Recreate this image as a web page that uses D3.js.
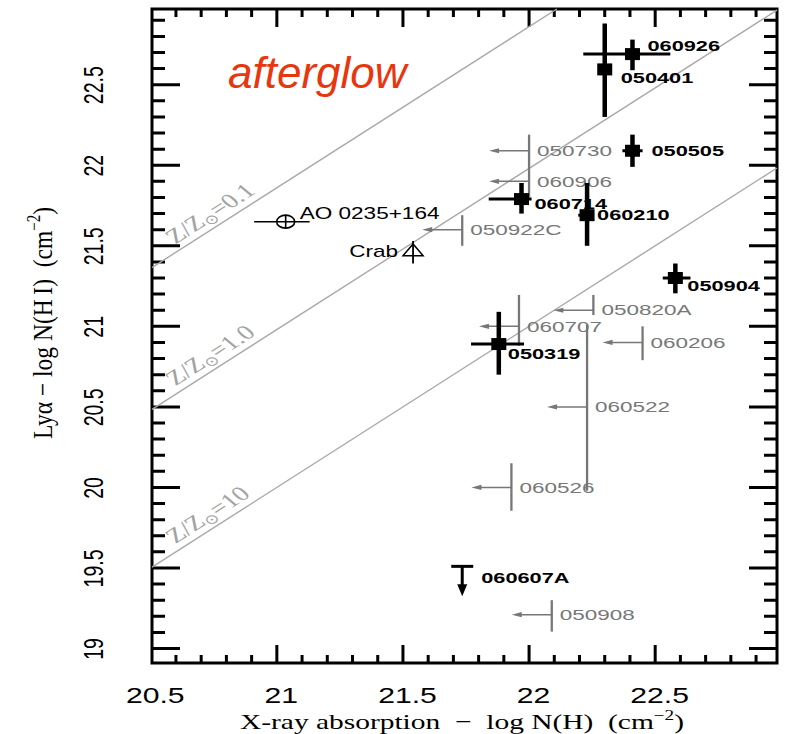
<!DOCTYPE html>
<html><head><meta charset="utf-8">
<script src="https://cdn.jsdelivr.net/npm/d3@7"></script>
<style>body{margin:0;background:#fff}svg{display:block}</style>
</head><body>
<svg id="chart" width="786" height="734"></svg>
<script>
// ---------------- data ----------------
// GRB afterglows with measured values (filled squares, error bars)
const detNames = ["060926","050401","050505","060714","060210","050904","050319"];
const detX     = [22.41, 22.30, 22.41, 21.97, 22.23, 22.58, 21.88];
const detY     = [22.69, 22.595, 22.09, 21.79, 21.69, 21.30, 20.89];
const detXlo   = [22.215, 22.30, 22.37, 21.84, 22.195, 22.53, 21.77];
const detXhi   = [22.56, 22.30, 22.45, 22.01, 22.255, 22.64, 21.98];
const detYlo   = [22.59, 22.30, 21.99, 21.70, 21.50, 21.205, 20.70];
const detYhi   = [22.78, 22.88, 22.19, 21.89, 21.89, 21.39, 21.09];

// X-ray upper limits (grey, arrow to the left)
const limNames = ["050730","060906","050922C","050820A","060707","060206","060522","060526","050908"];
const limX     = [22.00, 22.00, 21.735, 22.255, 21.96, 22.45, 22.23, 21.93, 22.09];
const limY     = [22.09, 21.90, 21.60, 21.10, 21.00, 20.90, 20.50, 20.00, 19.21];
const limYlo   = [21.97, 21.80, 21.50, 21.07, 20.88, 20.79, 19.98, 19.855, 19.105];
const limYhi   = [22.19, 21.97, 21.69, 21.195, 21.195, 21.00, 21.01, 20.15, 19.30];

// Lyman-alpha upper limit
const ulName = "060607A", ulX = 21.735, ulY = 19.51;

// comparison objects
const aoName = "AO 0235+164", aoX = 21.035, aoY = 21.65, aoXlo = 20.91, aoXhi = 21.13;
const crabName = "Crab", crabX = 21.54, crabY = 21.47, crabYlo = 21.39, crabYhi = 21.53;

// metallicity lines  log N(HI) = log N(H) + offset
const zLabels  = ["0.1", "1.0", "10"];
const zOffsets = [0.86, -0.02, -1.0];

// axes
const xTickValues = [20.5, 21, 21.5, 22, 22.5];
const xTickLabels = ["20.5", "21", "21.5", "22", "22.5"];
const yTickValues = [19, 19.5, 20, 20.5, 21, 21.5, 22, 22.5];
const yTickLabels = ["19", "19.5", "20", "20.5", "21", "21.5", "22", "22.5"];

// ---------------- layout ----------------
const SX = 1.37; // horizontal stretch of the original figure
const svg = d3.select("#chart");
const x = d3.scaleLinear().domain([20.505, 22.983]).range([152, 777]);
const y = d3.scaleLinear().domain([18.91, 22.97]).range([663, 9]);
const XL = 152, XR = 777, YB = 663, YT = 9;

// frame with inward tick marks, all in one path
{
  const xMinor = d3.range(206, 230).map(v => v / 10).filter(v => xTickValues.indexOf(v) < 0);
  const yMinor = d3.range(190, 230).map(v => v / 10).filter(v => yTickValues.indexOf(v) < 0);
  const xMajorIn = xTickValues.filter(v => v > 20.51);
  const f = n => n.toFixed(2);
  let dstr = `M${XL},${YT}H${XR}V${YB}H${XL}Z`;
  xMinor.forEach(v => { dstr += `M${f(x(v))},${YB}V${YB - 8}M${f(x(v))},${YT}V${YT + 8}`; });
  xMajorIn.forEach(v => { dstr += `M${f(x(v))},${YB}V${YB - 18}M${f(x(v))},${YT}V${YT + 18}`; });
  yMinor.forEach(v => { dstr += `M${XL},${f(y(v))}H${XL + 13}M${XR},${f(y(v))}H${XR - 13}`; });
  yTickValues.forEach(v => { dstr += `M${XL},${f(y(v))}H${XL + 28}M${XR},${f(y(v))}H${XR - 28}`; });
  svg.append("path").attr("d", dstr)
    .style("fill", "none").attr("stroke", "#000").attr("stroke-width", 3);
}

// tick labels through d3 axes
const xb = svg.append("g").attr("transform", `translate(0,${YB})`)
  .call(d3.axisBottom(x).tickValues(xTickValues).tickSize(0).tickPadding(24)
    .tickFormat((d, i) => xTickLabels[i]));
xb.select(".domain").remove();
xb.selectAll(".tick line").remove();
xb.selectAll(".tick text").attr("font-family", "'Liberation Sans', Arial, sans-serif")
  .attr("font-size", 22).attr("fill", "#000").attr("transform", `translate(4,0) scale(${SX},1)`);

const yl = svg.append("g").attr("transform", `translate(${XL},0)`)
  .call(d3.axisLeft(y).tickValues(yTickValues).tickSize(0).tickFormat((d, i) => yTickLabels[i]));
yl.select(".domain").remove();
yl.selectAll(".tick line").remove();
yl.selectAll(".tick text").attr("x", 0).attr("dy", 0).attr("text-anchor", "middle")
  .attr("font-family", "'Liberation Sans', Arial, sans-serif").attr("font-size", 19.5).attr("fill", "#000")
  .attr("transform", `translate(-49,0) scale(${SX},1) rotate(-90)`);

// axis titles
const xt = svg.append("text").attr("transform", `translate(462,729) scale(1.37,1)`)
  .attr("text-anchor", "middle").attr("font-family", "'Liberation Serif', 'Times New Roman', serif")
  .attr("font-size", 21.5).attr("fill", "#000");
xt.append("tspan").text("X-ray absorption \u00a0\u2212\u00a0 log N(H) \u00a0(cm");
xt.append("tspan").attr("font-size", 14).attr("dy", -9).text("\u22122");
xt.append("tspan").attr("dy", 9).text(")");

const yt = svg.append("text").attr("transform", `translate(52,323) scale(1.2,1) rotate(-90)`)
  .attr("text-anchor", "middle").attr("font-family", "'Liberation Serif', 'Times New Roman', serif")
  .attr("font-size", 23.5).attr("fill", "#000");
yt.append("tspan").text("Ly\u03b1 \u2212 log N(H\u2009I) \u00a0(cm");
yt.append("tspan").attr("font-size", 15).attr("dy", -10).text("\u22122");
yt.append("tspan").attr("dy", 10).text(")");

// metallicity lines (ends computed at the frame)
const [d0, d1] = x.domain();
const [r0, r1] = y.domain();
zOffsets.forEach((off, i) => {
  const xa = Math.max(d0, r0 - off), xz = Math.min(d1, r1 - off);
  svg.append("line").attr("x1", x(xa)).attr("y1", y(xa + off)).attr("x2", x(xz)).attr("y2", y(xz + off))
    .attr("stroke", "#a9a9a9").attr("stroke-width", 1.4);
});
const angle = Math.atan2(y(20) - y(21), (x(21) - x(20)) / SX) * 180 / Math.PI;
zLabels.forEach((lab, i) => {
  const ax = 20.62, px = x(ax), py = y(ax + zOffsets[i]);
  const t = svg.append("text")
    .attr("transform", `translate(${px},${py}) scale(${SX},1) rotate(${-angle}) translate(0,-6)`)
    .attr("font-family", "'Liberation Serif', 'Times New Roman', serif").attr("font-size", 20.5)
    .attr("fill", "#a3a3a3");
  t.append("tspan").text("Z/Z");
  t.append("tspan").attr("font-size", 13).attr("dy", 3).attr("font-family", "'DejaVu Sans', sans-serif").text("\u2299");
  t.append("tspan").attr("dy", -3).text("=" + lab);
});

// afterglow title
svg.append("text").attr("x", 228).attr("y", 88).attr("font-family", "'Liberation Sans', Arial, sans-serif")
  .attr("font-style", "italic").attr("font-size", 44).attr("fill", "#e8360e").text("afterglow");

function stext(sel, px, py, str, opt) {
  return sel.append("text").attr("transform", `translate(${px},${py}) scale(${opt.sx},1)`)
    .attr("dy", "0.35em").attr("text-anchor", opt.anchor || "start")
    .attr("font-family", "'Liberation Sans', Arial, sans-serif").attr("font-size", opt.size)
    .attr("font-weight", opt.weight || "normal").attr("fill", opt.fill).text(str);
}

// grey upper limits
const GREY = "#777";
const lg = svg.append("g");
limNames.forEach((name, i) => {
  const px = x(limX[i]), py = y(limY[i]);
  lg.append("line").attr("x1", px).attr("x2", px).attr("y1", y(limYlo[i])).attr("y2", y(limYhi[i]))
    .attr("stroke", GREY).attr("stroke-width", 2.3);
  const tip = px - 40;
  lg.append("line").attr("x1", px).attr("x2", tip + 6).attr("y1", py).attr("y2", py)
    .attr("stroke", GREY).attr("stroke-width", 1.5);
  lg.append("path").attr("d", `M${tip},${py}L${tip + 10},${py - 2.6}L${tip + 10},${py + 2.6}Z`).attr("fill", GREY);
  stext(lg, px + 8, py, name, {sx: 1.5, size: 15, fill: GREY});
});

// detections
const dg = svg.append("g");
const detNudge = {"060926": [15, -8], "050401": [16, 9], "050505": [19, 0], "060714": [13, 5],
  "060210": [10, 0], "050904": [12, 8], "050319": [9, 10]};
detNames.forEach((name, i) => {
  const px = x(detX[i]), py = y(detY[i]);
  dg.append("line").attr("x1", px).attr("x2", px).attr("y1", y(detYlo[i])).attr("y2", y(detYhi[i]))
    .attr("stroke", "#000").attr("stroke-width", 4.5);
  dg.append("line").attr("x1", x(detXlo[i])).attr("x2", x(detXhi[i])).attr("y1", py).attr("y2", py)
    .attr("stroke", "#000").attr("stroke-width", 3);
  dg.append("rect").attr("x", px - 7.5).attr("y", py - 6).attr("width", 15).attr("height", 12).attr("fill", "#000");
  const n = detNudge[name];
  stext(dg, px + n[0], py + n[1], name, {sx: 1.5, size: 14.5, weight: "bold", fill: "#000"});
});

// 060607A upper limit
{
  const px = x(ulX), py = y(ulY);
  dg.append("line").attr("x1", px - 11).attr("x2", px + 11).attr("y1", py).attr("y2", py)
    .attr("stroke", "#000").attr("stroke-width", 3);
  dg.append("line").attr("x1", px).attr("x2", px).attr("y1", py).attr("y2", py + 20)
    .attr("stroke", "#000").attr("stroke-width", 3);
  dg.append("path").attr("d", `M${px},${py + 30}L${px - 5},${py + 18}L${px + 5},${py + 18}Z`).attr("fill", "#000");
  stext(dg, px + 19, py + 12, ulName, {sx: 1.5, size: 14.5, weight: "bold", fill: "#000"});
}

// AO 0235+164
{
  const px = x(aoX), py = y(aoY);
  dg.append("line").attr("x1", x(aoXlo)).attr("x2", x(aoXhi)).attr("y1", py).attr("y2", py)
    .attr("stroke", "#000").attr("stroke-width", 1.5);
  dg.append("ellipse").attr("cx", px).attr("cy", py).attr("rx", 9).attr("ry", 6.5)
    .attr("fill", "none").attr("stroke", "#000").attr("stroke-width", 1.6);
  dg.append("line").attr("x1", px).attr("x2", px).attr("y1", py - 6.5).attr("y2", py + 6.5)
    .attr("stroke", "#000").attr("stroke-width", 1.6);
  stext(dg, px + 14, py - 8, aoName, {sx: 1.41, size: 16, fill: "#000"});
}
// Crab
{
  const px = x(crabX), py = y(crabY);
  dg.append("line").attr("x1", px).attr("x2", px).attr("y1", y(crabYlo)).attr("y2", y(crabYhi))
    .attr("stroke", "#000").attr("stroke-width", 1.8);
  dg.append("path").attr("d", `M${px},${py - 6.7}L${px - 10},${py + 5}L${px + 10},${py + 5}Z`)
    .attr("fill", "none").attr("stroke", "#000").attr("stroke-width", 1.5);
  stext(dg, px - 15, py + 1, crabName, {sx: 1.41, size: 16, fill: "#000", anchor: "end"});
}
</script>
</body></html>
